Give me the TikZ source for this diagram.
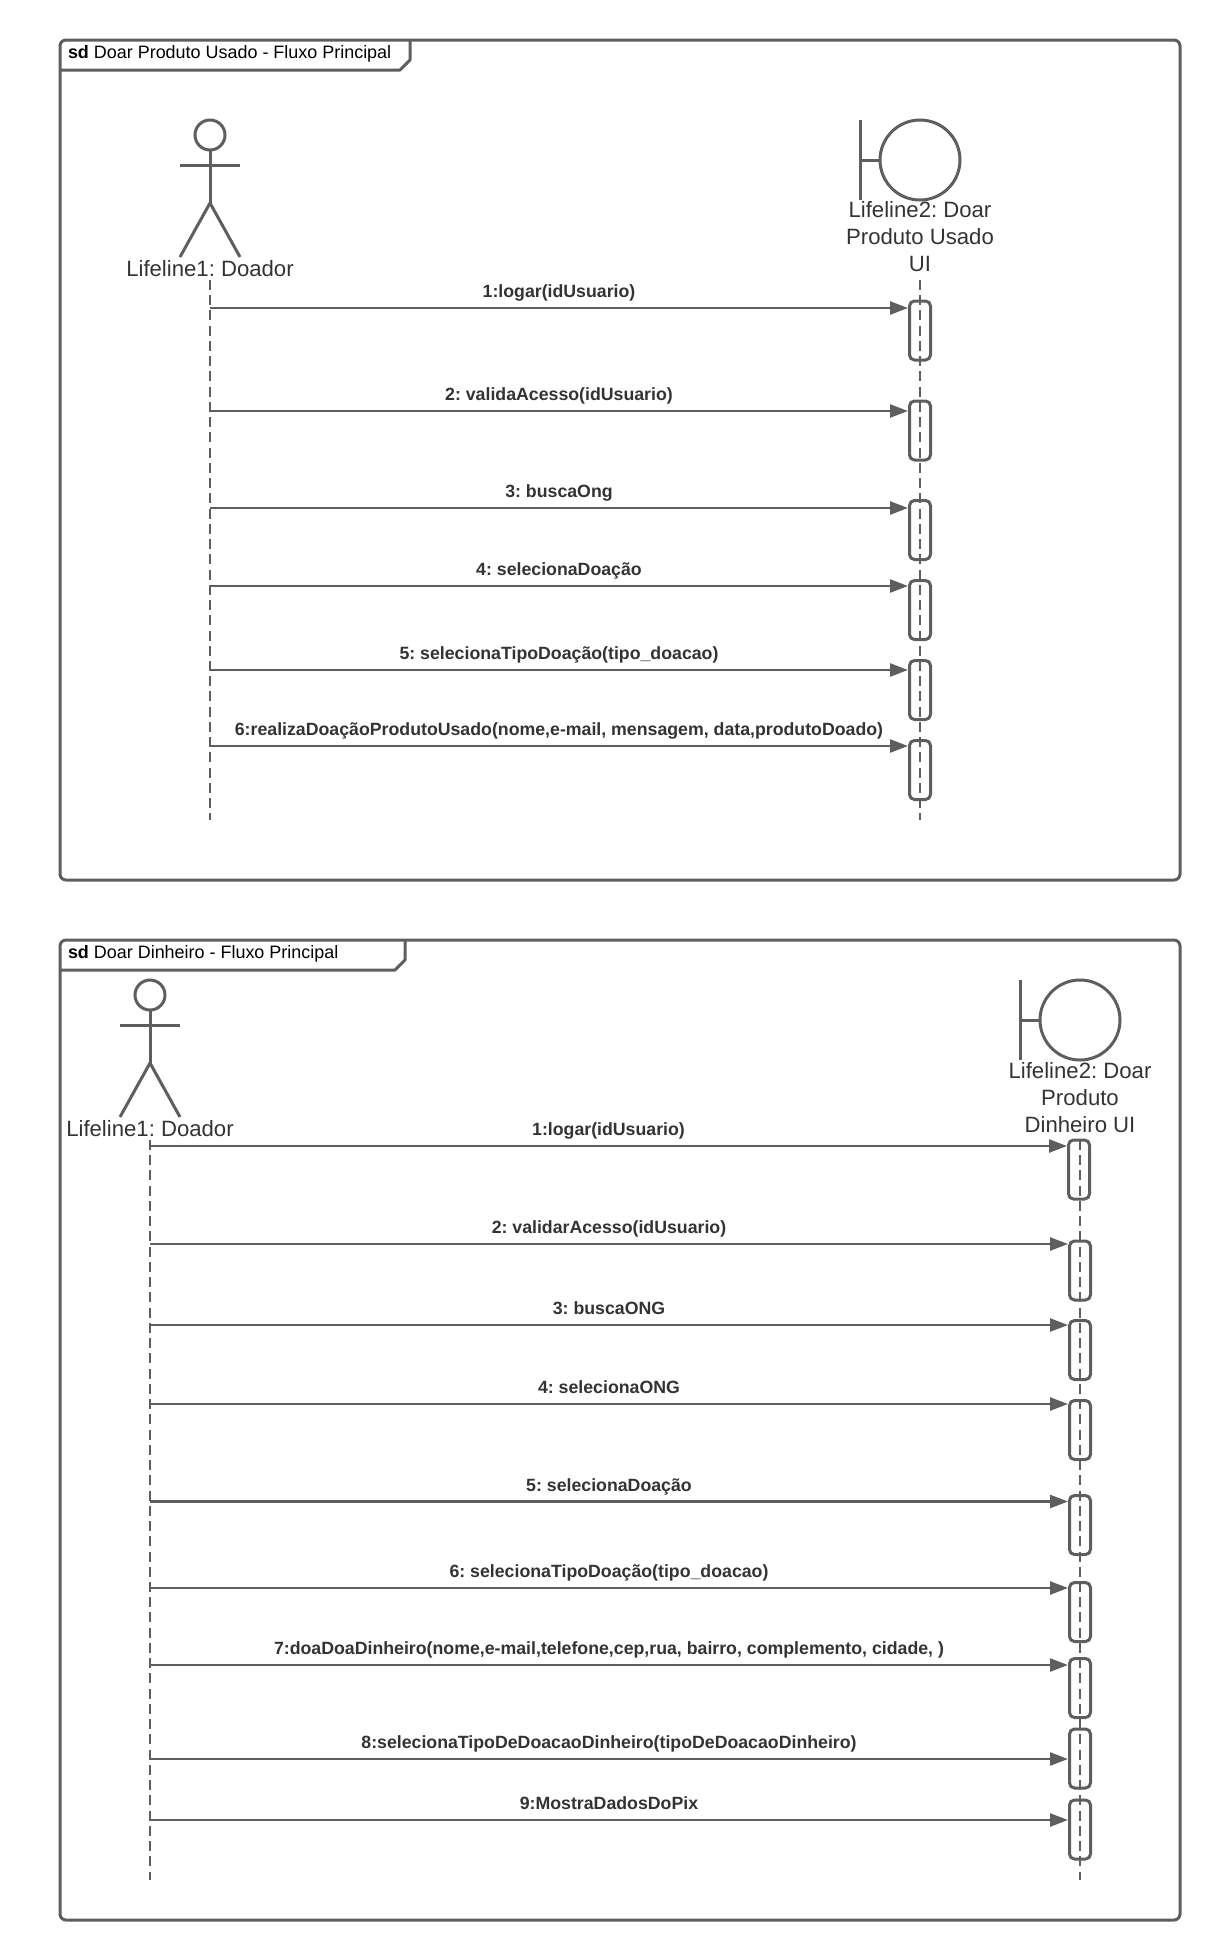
\documentclass[tikz,border=0pt]{standalone}
\usepackage{fontspec}
\setmainfont{Liberation Sans}
\usetikzlibrary{arrows.meta}
\definecolor{umlgray}{HTML}{5E5E5E}
\definecolor{umltext}{HTML}{333333}
\frenchspacing
\begin{document}
\begin{tikzpicture}[x=1pt,y=-1pt]
            \tikzstyle{every node}=[inner sep=0pt,outer sep=0pt]
            \tikzstyle{frame}=[draw=umlgray,line width=3pt,rounded corners=6pt]
            \tikzstyle{tab}=[draw=umlgray,line width=3pt,line join=round]
            \tikzstyle{figure}=[draw=umlgray,line width=3pt]
            \tikzstyle{lifeline}=[draw=umlgray,line width=2.2pt,dash pattern=on 10pt off 5.24pt]
            \tikzstyle{activation}=[draw=umlgray,line width=3pt,rounded corners=5pt,minimum width=21pt,minimum height=59pt,outer sep=1.5pt]
            \tikzstyle{message}=[draw=umlgray,line width=2.5pt,-{Triangle[length=18pt,width=13pt,fill=umlgray]}]
            \tikzstyle{msglabel}=[anchor=base,yshift=10.5pt,text=umltext,font=\fontsize{17.73pt}{21pt}\selectfont\bfseries]
            \tikzstyle{title}=[anchor=base west,text=black,font=\fontsize{17.95pt}{21pt}\selectfont]
            \tikzstyle{lifelabel}=[align=center,text=umltext,font=\fontsize{22.15pt}{27pt}\selectfont]
                \useasboundingbox (0,0) rectangle (1220,1960);
                % first frame
                \draw [frame] (60,40) rectangle (1180,880);
                \draw [tab] (60,70) -- (400,70) -- (410,60) -- (410,40);
                \node [title] (title1) at (68,58.5) {\textbf{sd} Doar Produto Usado - Fluxo Principal};
                \draw [figure] (210,135) circle (15);
                \draw [figure] (210,150) -- (210,203);
                \draw [figure] (180,165) -- (240,165);
                \draw [figure] (180,257) -- (210,203) -- (240,257);
                \node [lifelabel] (doador1) at (210,269) {Lifeline1: Doador};
                \draw [figure] (860,120) -- (860,200);
                \draw [figure] (860,160) -- (880,160);
                \draw [figure] (920,160) circle (40);
                \node [lifelabel] (ui1) at (920,237) {Lifeline2: Doar\\Produto Usado\\UI};
                \coordinate (a1top) at (210,280);
                \coordinate (a1end) at (210,820);
                \coordinate (b1top) at (920,280);
                \coordinate (b1end) at (920,820);
                \draw [lifeline] (a1top) -- (a1end);
                \draw [lifeline] (b1top) -- (b1end);
                \node [activation] (act11) at (920,330.5) {};
                \node [activation] (act12) at (920,430.5) {};
                \node [activation] (act13) at (920,530) {};
                \node [activation] (act14) at (920,610) {};
                \node [activation] (act15) at (920,690) {};
                \node [activation] (act16) at (920,770) {};
                \coordinate (from11) at (210,308);
                \coordinate (from12) at (210,411);
                \coordinate (from13) at (210,508);
                \coordinate (from14) at (210,586);
                \coordinate (from15) at (210,670);
                \coordinate (from16) at (210,746);
                \draw [message] (from11) -- (act11.west |- from11) node [msglabel,midway] (msg11) {1:logar(idUsuario)};
                \draw [message] (from12) -- (act12.west |- from12) node [msglabel,midway] (msg12) {2: validaAcesso(idUsuario)};
                \draw [message] (from13) -- (act13.west |- from13) node [msglabel,midway] (msg13) {3: buscaOng};
                \draw [message] (from14) -- (act14.west |- from14) node [msglabel,midway] (msg14) {4: selecionaDoação};
                \draw [message] (from15) -- (act15.west |- from15) node [msglabel,midway] (msg15) {5: selecionaTipoDoação(tipo\_doacao)};
                \draw [message] (from16) -- (act16.west |- from16) node [msglabel,midway] (msg16) {6:realizaDoaçãoProdutoUsado(nome,e-mail, mensagem, data,produtoDoado)};
                % second frame
                \draw [frame] (60,940) rectangle (1180,1920);
                \draw [tab] (60,970) -- (395,970) -- (405,960) -- (405,940);
                \node [title] (title2) at (68,958.5) {\textbf{sd} Doar Dinheiro - Fluxo Principal};
                \draw [figure] (150,995) circle (15);
                \draw [figure] (150,1010) -- (150,1063);
                \draw [figure] (120,1025) -- (180,1025);
                \draw [figure] (120,1117) -- (150,1063) -- (180,1117);
                \node [lifelabel] (doador2) at (150,1129) {Lifeline1: Doador};
                \draw [figure] (1020,980) -- (1020,1060);
                \draw [figure] (1020,1020) -- (1040,1020);
                \draw [figure] (1080,1020) circle (40);
                \node [lifelabel] (ui2) at (1080,1097.5) {Lifeline2: Doar\\Produto\\Dinheiro UI};
                \coordinate (a2top) at (150,1140);
                \coordinate (a2end) at (150,1880);
                \coordinate (b2top) at (1080,1140);
                \coordinate (b2end) at (1080,1880);
                \draw [lifeline] (a2top) -- (a2end);
                \draw [lifeline] (b2top) -- (b2end);
                \node [activation] (act21) at (1079,1169.5) {};
                \node [activation] (act22) at (1080,1270.5) {};
                \node [activation] (act23) at (1080,1350) {};
                \node [activation] (act24) at (1080,1430) {};
                \node [activation] (act25) at (1080,1525) {};
                \node [activation] (act26) at (1080,1612) {};
                \node [activation] (act27) at (1080,1688) {};
                \node [activation] (act28) at (1080,1758.5) {};
                \node [activation] (act29) at (1080,1829.5) {};
                \coordinate (from21) at (150,1146);
                \coordinate (from22) at (150,1244);
                \coordinate (from23) at (150,1325);
                \coordinate (from24) at (150,1404);
                \coordinate (from25) at (150,1501.5);
                \coordinate (from26) at (150,1588);
                \coordinate (from27) at (150,1665);
                \coordinate (from28) at (150,1759);
                \coordinate (from29) at (150,1820);
                \draw [message] (from21) -- (act21.west |- from21) node [msglabel,midway] (msg21) {1:logar(idUsuario)};
                \draw [message] (from22) -- (act22.west |- from22) node [msglabel,midway] (msg22) {2: validarAcesso(idUsuario)};
                \draw [message] (from23) -- (act23.west |- from23) node [msglabel,midway] (msg23) {3: buscaONG};
                \draw [message] (from24) -- (act24.west |- from24) node [msglabel,midway] (msg24) {4: selecionaONG};
                \draw [message] (from25) -- (act25.west |- from25) node [msglabel,midway] (msg25) {5: selecionaDoação};
                \draw [message] (from26) -- (act26.west |- from26) node [msglabel,midway] (msg26) {6: selecionaTipoDoação(tipo\_doacao)};
                \draw [message] (from27) -- (act27.west |- from27) node [msglabel,midway] (msg27) {7:doaDoaDinheiro(nome,e-mail,telefone,cep,rua, bairro, complemento, cidade, )};
                \draw [message] (from28) -- (act28.west |- from28) node [msglabel,midway] (msg28) {8:selecionaTipoDeDoacaoDinheiro(tipoDeDoacaoDinheiro)};
                \draw [message] (from29) -- (act29.west |- from29) node [msglabel,midway] (msg29) {9:MostraDadosDoPix};
            \end{tikzpicture}
\end{document}
